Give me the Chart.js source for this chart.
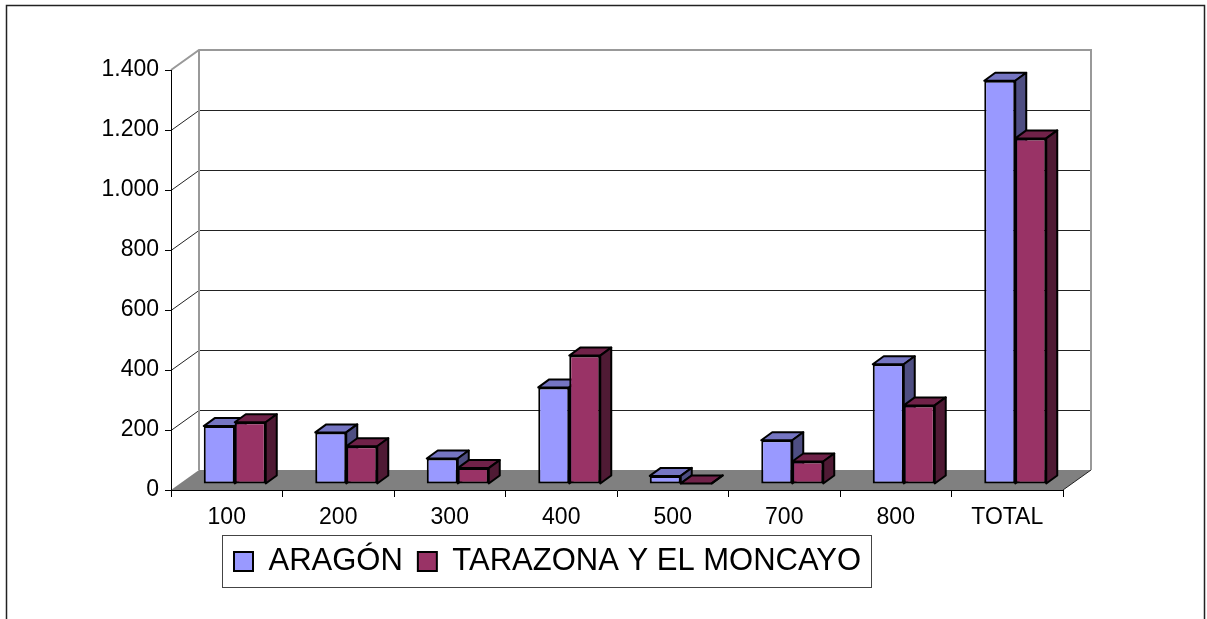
<!DOCTYPE html>
<html lang="es">
<head>
<meta charset="utf-8">
<title>ARAGÓN - TARAZONA Y EL MONCAYO</title>
<script src="https://cdn.jsdelivr.net/npm/chart.js@4.4.1/dist/chart.umd.min.js"></script>
<style>
    html, body { margin: 0; padding: 0; background: #fff; }
    #wrap { position: relative; width: 1207px; height: 619px; }
</style>
</head>
<body>
<div id="wrap"><canvas id="chart"></canvas></div>
<script>
// --- Data ---
const categories = ['100', '200', '300', '400', '500', '700', '800', 'TOTAL'];
const aragon = [193, 172, 85, 322, 27, 146, 399, 1344];
const tarazona = [206, 126, 53, 428, 2, 75, 262, 1152];
const yTicks = [0, 200, 400, 600, 800, 1000, 1200, 1400];

// --- Look of the fake 3D ---
const WALL = { x: 28, y: -20 };       // back wall offset from front plane
const BAR_SHIFT = { x: 8, y: -6 };    // bars sit a little behind the front edge
const BAR_DEPTH = { x: 11, y: -8 };   // depth of each bar
const shades = [
    { front: '#9999FF', top: '#7575C2', side: '#4E4E82' },
    { front: '#993366', top: '#702249', side: '#4F1A34' }
];

Chart.defaults.font.family = "'Liberation Sans', Arial, sans-serif";
Chart.defaults.color = '#000';

const fmt = v => String(v).replace(/\B(?=(\d{3})+(?!\d))/g, '.');

function poly(ctx, pts, fill) {
    ctx.beginPath();
    ctx.moveTo(pts[0][0], pts[0][1]);
    pts.slice(1).forEach(p => ctx.lineTo(p[0], p[1]));
    ctx.closePath();
    ctx.fillStyle = fill;
    ctx.fill();
    ctx.stroke();
}

const pseudo3d = {
    id: 'pseudo3d',

    // put the legend where the original has it
    afterLayout(chart) {
        const lg = chart.legend;
        lg.left = 219;
        lg.right = 1200;
        lg.width = lg.right - lg.left;
        lg.top = 531;
        lg.bottom = lg.top + lg.height;
    },

    // back wall, gridlines and floor
    beforeDraw(chart) {
        const { ctx, chartArea: a, scales: { y } } = chart;
        ctx.save();

        // floor
        ctx.fillStyle = '#808080';
        ctx.beginPath();
        ctx.moveTo(a.left, a.bottom);
        ctx.lineTo(a.right, a.bottom);
        ctx.lineTo(a.right + WALL.x, a.bottom + WALL.y);
        ctx.lineTo(a.left + WALL.x, a.bottom + WALL.y);
        ctx.closePath();
        ctx.fill();

        // gridlines: diagonal on the side wall + horizontal on the back wall
        ctx.strokeStyle = '#222';
        ctx.lineWidth = 1;
        const top = yTicks[yTicks.length - 1];
        yTicks.forEach(v => {
            if (v === 0 || v === top) return;
            const py = Math.round(y.getPixelForValue(v)) + 0.5;
            ctx.beginPath();
            ctx.moveTo(a.left, py);
            ctx.lineTo(a.left + WALL.x, py + WALL.y);
            ctx.lineTo(a.right + WALL.x, py + WALL.y);
            ctx.stroke();
        });

        // right edge of floor
        ctx.beginPath();
        ctx.moveTo(a.right, a.bottom);
        ctx.lineTo(a.right + WALL.x, a.bottom + WALL.y);
        ctx.stroke();

        // wall outline
        ctx.strokeStyle = '#999';
        ctx.lineWidth = 2;
        ctx.beginPath();
        ctx.moveTo(a.left, a.top);
        ctx.lineTo(a.left + WALL.x, a.top + WALL.y);
        ctx.lineTo(a.right + WALL.x, a.top + WALL.y);
        ctx.lineTo(a.right + WALL.x, a.bottom + WALL.y);
        ctx.moveTo(a.left + WALL.x, a.top + WALL.y);
        ctx.lineTo(a.left + WALL.x, a.bottom + WALL.y);
        ctx.stroke();
        ctx.restore();
    },

    // tops and sides of the bars, fronts are drawn by Chart.js afterwards
    beforeDatasetsDraw(chart) {
        const ctx = chart.ctx;
        ctx.save();
        ctx.translate(BAR_SHIFT.x, BAR_SHIFT.y);
        ctx.save();
        ctx.strokeStyle = '#000';
        ctx.lineWidth = 2;
        ctx.lineJoin = 'round';
        const metas = chart.data.datasets.map((d, i) => chart.getDatasetMeta(i));
        categories.forEach((c, j) => {
            metas.forEach((meta, i) => {
                const { x, y, base, width } = meta.data[j].getProps(['x', 'y', 'base', 'width'], true);
                const l = x - width / 2, r = x + width / 2;
                const bx = BAR_DEPTH.x, by = BAR_DEPTH.y;
                poly(ctx, [[l, y], [l + bx, y + by], [r + bx, y + by], [r, y]], shades[i].top);
                poly(ctx, [[r, y], [r + bx, y + by], [r + bx, base + by], [r, base]], shades[i].side);
            });
        });
        ctx.restore();
    },

    afterDatasetsDraw(chart) {
        chart.ctx.restore();
    },

    // legend frame and outer frame
    afterDraw(chart) {
        const { ctx, legend } = chart;
        const hb = legend.legendHitBoxes;
        ctx.save();
        if (hb && hb.length) {
            const first = hb[0], last = hb[hb.length - 1];
            const x0 = Math.round(first.left - 12) + 0.5;
            const x1 = Math.round(last.left + last.width + 10) + 0.5;
            const y0 = Math.round(first.top - 11) + 0.5;
            const y1 = Math.round(first.top + first.height + 10) + 0.5;
            ctx.strokeStyle = '#444';
            ctx.lineWidth = 1;
            ctx.strokeRect(x0, y0, x1 - x0, y1 - y0);
        }
        ctx.strokeStyle = '#222';
        ctx.lineWidth = 1.5;
        ctx.strokeRect(6.5, 5.5, 1198, 700);
        ctx.restore();
    }
};

new Chart(document.getElementById('chart'), {
    type: 'bar',
    data: {
        labels: categories,
        datasets: [
            {
                label: 'ARAGÓN',
                data: aragon,
                backgroundColor: shades[0].front,
                borderColor: '#000',
                borderWidth: 2,
                borderSkipped: false
            },
            {
                label: 'TARAZONA Y EL MONCAYO',
                data: tarazona,
                backgroundColor: shades[1].front,
                borderColor: '#000',
                borderWidth: 2,
                borderSkipped: false
            }
        ]
    },
    options: {
        responsive: true,
        maintainAspectRatio: false,
        animation: false,
        events: [],
        categoryPercentage: 0.556,
        barPercentage: 1,
        layout: { padding: { left: 0, top: 70, right: 144, bottom: 0 } },
        plugins: {
            tooltip: { enabled: false },
            legend: {
                position: 'bottom',
                align: 'start',
                labels: {
                    boxWidth: 19,
                    boxHeight: 19,
                    padding: 15,
                    color: '#000',
                    font: { size: 31 }
                }
            }
        },
        scales: {
            x: {
                grid: { display: true, drawOnChartArea: false, drawTicks: true, tickLength: 7, color: '#000', offset: true },
                border: { display: true, color: '#000', width: 1 },
                ticks: { padding: 7, maxRotation: 0, autoSkip: false, font: { size: 23 } },
                afterFit: s => {
                    const lh = s.chart.legend ? s.chart.legend.height : 56;
                    s.height = s.chart.height - 490 - lh;
                }
            },
            y: {
                min: 0,
                max: yTicks[yTicks.length - 1],
                afterBuildTicks: s => { s.ticks = yTicks.map(v => ({ value: v })); },
                grid: { display: true, drawOnChartArea: false, drawTicks: true, tickLength: 6, color: '#000' },
                border: { display: true, color: '#000', width: 1 },
                ticks: { padding: 6, font: { size: 23 }, callback: v => fmt(v) },
                afterFit: s => { s.width = 171; }
            }
        }
    },
    plugins: [pseudo3d]
});
</script>
</body>
</html>
